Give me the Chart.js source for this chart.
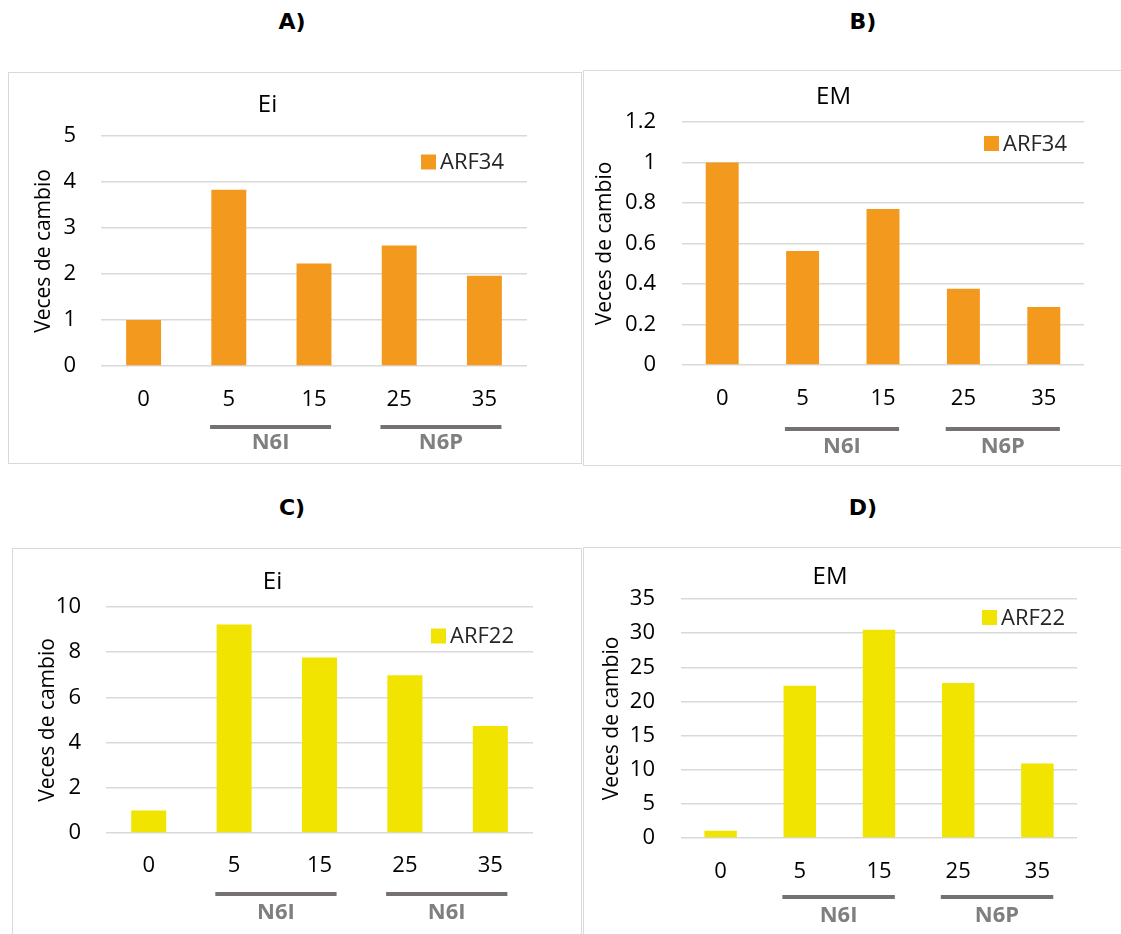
<!DOCTYPE html>
<html>
<head>
<meta charset="utf-8">
<script src="https://cdn.jsdelivr.net/npm/chart.js@4/dist/chart.umd.min.js"></script>
<style>
  html, body { margin: 0; padding: 0; background: #fff; }
  body { width: 1121px; height: 934px; position: relative; overflow: hidden; }
  .marco { position: absolute; border: 1px solid #d9d9d9; box-sizing: border-box; }
  .panel { position: absolute; }
  .letra { position: absolute; font-family: 'DejaVu Sans', sans-serif; font-weight: bold; font-size: 22px;
           color: #000; transform: translate(-50%, -50%); white-space: nowrap; }
</style>
</head>
<body>
<div class="letra" style="left:292px; top:21px;">A)</div>
<div class="letra" style="left:863px; top:21px;">B)</div>
<div class="letra" style="left:292px; top:507px;">C)</div>
<div class="letra" style="left:863px; top:507px;">D)</div>

<div class="marco" style="left:8px; top:72px; width:574px; height:392px;"></div>
<div class="marco" style="left:583px; top:70px; width:560px; height:396px;"></div>
<div class="marco" style="left:12px; top:548px; width:570px; height:420px;"></div>
<div class="marco" style="left:583px; top:547px; width:560px; height:420px;"></div>

<div class="panel" style="left:8px; top:72px;"><canvas id="chartA" width="573" height="391"></canvas></div>
<div class="panel" style="left:583px; top:70px;"><canvas id="chartB" width="538" height="395"></canvas></div>
<div class="panel" style="left:12px; top:548px;"><canvas id="chartC" width="569" height="386"></canvas></div>
<div class="panel" style="left:583px; top:547px;"><canvas id="chartD" width="538" height="387"></canvas></div>

<script>
// Días de muestreo (eje x) y veces de cambio
const dias = ['0', '5', '15', '25', '35'];

const arf34Ei = [1.0, 3.83, 2.23, 2.62, 1.96];
const arf34EM = [1.0, 0.563, 0.77, 0.377, 0.286];
const arf22Ei = [1.0, 9.23, 7.76, 6.98, 4.73];
const arf22EM = [1.07, 22.3, 30.5, 22.7, 10.9];

// Grupos bajo el eje x (índices de las categorías que abarca cada línea)
const gruposAB = ['N6I', 'N6P'];
const gruposC  = ['N6I', 'N6I'];
const gruposD  = ['N6I', 'N6P'];
const rangosGrupo = [[1, 2], [3, 4]];

const NARANJA = '#f39a1e';
const AMARILLO = '#f0e400';
const FUENTE = "'Open Sans', sans-serif";

// Dibuja las líneas grises y el nombre del grupo debajo de las etiquetas del eje x
const pluginGrupos = {
  id: 'grupos',
  afterDraw(chart, args, opts) {
    if (!opts || !opts.labels) return;
    const ctx = chart.ctx;
    const x = chart.scales.x;
    const paso = x.getPixelForValue(1) - x.getPixelForValue(0);
    ctx.save();
    opts.labels.forEach((lab, i) => {
      const [a, b] = rangosGrupo[i];
      const x0 = x.getPixelForValue(a) - paso * 0.22;
      const x1 = x.getPixelForValue(b) + paso * 0.2;
      ctx.strokeStyle = '#767171';
      ctx.lineWidth = 4;
      ctx.beginPath();
      ctx.moveTo(x0, opts.lineY);
      ctx.lineTo(x1, opts.lineY);
      ctx.stroke();
      ctx.fillStyle = '#7f7f7f';
      ctx.font = 'bold 22px ' + FUENTE;
      ctx.textAlign = 'center';
      ctx.textBaseline = 'middle';
      ctx.fillText(lab, (x0 + x1) / 2, opts.labelY);
    });
    ctx.restore();
  }
};

// Leyenda dentro del área de la gráfica, arriba a la derecha
const pluginLeyenda = {
  id: 'leyendaDentro',
  afterDraw(chart, args, opts) {
    if (!opts || opts.dx == null) return;
    const ctx = chart.ctx;
    const area = chart.chartArea;
    const ds = chart.data.datasets[0];
    const x = area.right - opts.dx;
    const y = area.top + opts.dy;
    ctx.save();
    ctx.fillStyle = ds.backgroundColor;
    ctx.fillRect(x, y - 7.5, 15, 15);
    ctx.fillStyle = '#262626';
    ctx.font = '22px ' + FUENTE;
    ctx.textAlign = 'left';
    ctx.textBaseline = 'middle';
    ctx.fillText(ds.label, x + 19, y + 1);
    ctx.restore();
  }
};

function crearGrafica(id, cfg) {
  return new Chart(document.getElementById(id), {
    type: 'bar',
    data: {
      labels: dias,
      datasets: [{
        label: cfg.serie,
        data: cfg.valores,
        backgroundColor: cfg.color,
        categoryPercentage: 1,
        barPercentage: 0.41
      }]
    },
    options: {
      responsive: false,
      devicePixelRatio: 1,
      animation: false,
      layout: { padding: { left: 0, right: cfg.padDer, top: 0, bottom: 0 } },
      plugins: {
        legend: { display: false },
        tooltip: { enabled: false },
        title: {
          display: true,
          text: cfg.titulo,
          color: '#000',
          font: { family: FUENTE, size: 24, weight: 'normal', lineHeight: 1.2 },
          padding: { top: cfg.tituloY - 14.4, bottom: cfg.areaTop - cfg.tituloY - 14.4 }
        },
        grupos: { labels: cfg.grupos, lineY: cfg.lineaY, labelY: cfg.grupoY },
        leyendaDentro: { dx: cfg.leyDx, dy: cfg.leyDy }
      },
      scales: {
        x: {
          grid: { display: false, drawTicks: false },
          border: { display: false },
          ticks: { color: '#000', font: { family: FUENTE, size: 22 }, padding: cfg.xPad, maxRotation: 0 },
          afterFit: s => { s.height = cfg.altoX; }
        },
        y: {
          min: 0,
          max: cfg.max,
          grid: { color: '#d9d9d9', lineWidth: 1.5, drawTicks: false },
          border: { display: false },
          ticks: {
            stepSize: cfg.paso, color: '#000', font: { family: FUENTE, size: 22 }, padding: cfg.yPad,
            callback: v => String(Number(v.toFixed(2)))
          },
          title: {
            display: true,
            text: 'Veces de cambio',
            color: '#000',
            font: { family: FUENTE, size: 21, lineHeight: 1.2 },
            padding: { top: cfg.tituloYPad, bottom: 0 }
          },
          afterFit: s => { s.width = cfg.anchoY; }
        }
      }
    },
    plugins: [pluginGrupos, pluginLeyenda]
  });
}

crearGrafica('chartA', {
  serie: 'ARF34', valores: arf34Ei, color: NARANJA, titulo: 'Ei', max: 5, paso: 1,
  grupos: gruposAB, padDer: 54, anchoY: 93, altoX: 97, areaTop: 64, tituloY: 33,
  yPad: 25, tituloYPad: 23, xPad: 21, lineaY: 355, grupoY: 371, leyDx: 106, leyDy: 26
});

crearGrafica('chartB', {
  serie: 'ARF34', valores: arf34EM, color: NARANJA, titulo: 'EM', max: 1.2, paso: 0.2,
  grupos: gruposAB, padDer: 37, anchoY: 99, altoX: 100, areaTop: 52, tituloY: 27,
  yPad: 26, tituloYPad: 9, xPad: 21, lineaY: 359, grupoY: 377, leyDx: 100, leyDy: 21.5
});

crearGrafica('chartC', {
  serie: 'ARF22', valores: arf22Ei, color: AMARILLO, titulo: 'Ei', max: 10, paso: 2,
  grupos: gruposC, padDer: 48, anchoY: 94, altoX: 101, areaTop: 59, tituloY: 34,
  yPad: 25, tituloYPad: 23, xPad: 20, lineaY: 346, grupoY: 365, leyDx: 102, leyDy: 29
});

crearGrafica('chartD', {
  serie: 'ARF22', valores: arf22EM, color: AMARILLO, titulo: 'EM', max: 35, paso: 5,
  grupos: gruposD, padDer: 44, anchoY: 98, altoX: 96, areaTop: 52, tituloY: 30,
  yPad: 26, tituloYPad: 16, xPad: 21, lineaY: 350, grupoY: 369, leyDx: 95, leyDy: 18.5
});
</script>
</body>
</html>
